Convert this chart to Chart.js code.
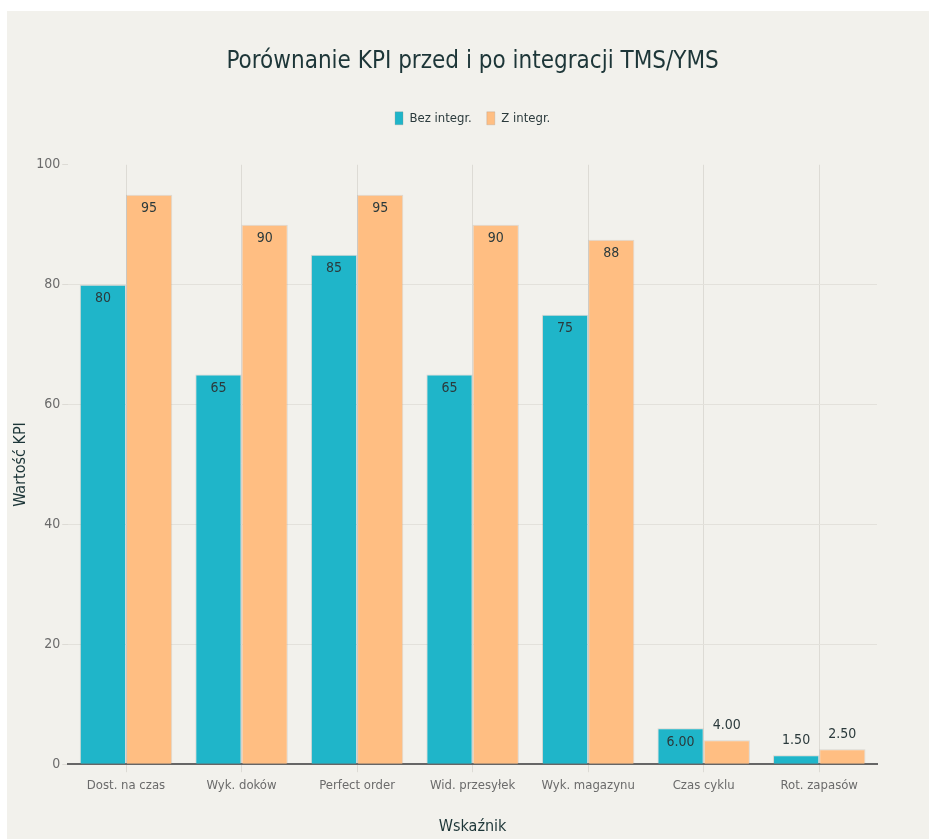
<!DOCTYPE html>
<html>
<head>
<meta charset="utf-8">
<script src="https://cdn.jsdelivr.net/npm/chart.js@4.4.0/dist/chart.umd.min.js"></script>
<style>
  html, body { margin: 0; padding: 0; background: #ffffff; }
  #wrap { position: absolute; left: 7px; top: 11px; width: 922px; height: 828px; background: #f2f1ec; }
</style>
</head>
<body>
<div id="wrap"><canvas id="myChart"></canvas></div>
<script>
var kategorie = ["Dost. na czas", "Wyk. doków", "Perfect order", "Wid. przesyłek", "Wyk. magazynu", "Czas cyklu", "Rot. zapasów"];
var bezIntegr = [80, 65, 85, 65, 75, 6, 1.5];
var zIntegr = [95, 90, 95, 90, 87.5, 4, 2.5];
var yTicks = [0, 20, 40, 60, 80, 100];

var fontName = "'Liberation Sans Narrow', 'DejaVu Sans Condensed', Arial, sans-serif";
var ctx = document.getElementById("myChart");

function fmt(v) {
  if (v < 10) return v.toFixed(2);
  return String(Math.round(v));
}

// etykiety na słupkach (bez pluginu datalabels)
var etykiety = {
  id: "etykiety",
  afterDatasetsDraw(chart) {
    var c = chart.ctx;
    c.save();
    c.font = "14px " + fontName;
    c.fillStyle = "#2b3a3c";
    c.textAlign = "center";
    chart.data.datasets.forEach((ds, i) => {
      var meta = chart.getDatasetMeta(i);
      meta.data.forEach((bar, j) => {
        var h = bar.base - bar.y;
        var txt = fmt(ds.data[j]);
        if (h > 28) {
          c.textBaseline = "top";
          c.fillText(txt, bar.x, bar.y + 7);
        } else {
          c.textBaseline = "bottom";
          c.fillText(txt, bar.x, bar.y - 8);
        }
      });
    });
    c.restore();
  }
};

// wiekszy odstep pod legenda
var odstepLegendy = {
  id: "odstepLegendy",
  beforeInit(chart) {
    var fit = chart.legend.fit;
    chart.legend.fit = function () {
      fit.bind(chart.legend)();
      this.height += 30;
    };
  }
};

var myChart = new Chart(ctx, {
  type: "bar",
  data: {
    labels: kategorie,
    datasets: [
      {
        label: "Bez integr.",
        data: bezIntegr,
        backgroundColor: "#1fb5c9",
        borderColor: "rgba(150,140,130,0.25)",
        borderWidth: 1,
      },
      {
        label: "Z integr.",
        data: zIntegr,
        backgroundColor: "#ffbe82",
        borderColor: "rgba(150,140,130,0.25)",
        borderWidth: 1,
      },
    ],
  },
  options: {
    responsive: true,
    maintainAspectRatio: false,
    animation: false,
    datasets: { bar: { categoryPercentage: 0.8, barPercentage: 1.0 } },
    layout: { padding: { left: 0, right: 52, top: 21, bottom: 0 } },
    plugins: {
      title: {
        display: true,
        fullSize: false,
        text: "Porównanie KPI przed i po integracji TMS/YMS",
        color: "#1d3638",
        font: { family: fontName, size: 24, weight: "normal" },
        padding: { top: 15, bottom: 21 },
      },
      legend: {
        position: "top",
        fullSize: false,
        labels: {
          color: "#2b3a3c",
          font: { family: fontName, size: 13 },
          boxWidth: 8,
          boxHeight: 13,
          padding: 15,
        },
      },
      tooltip: { enabled: false },
    },
    scales: {
      x: {
        grid: { offset: false, color: "#dddbd5", drawTicks: true, tickLength: 8 },
        border: { color: "#666666", width: 2 },
        ticks: { color: "#6b6b6b", font: { family: fontName, size: 13 }, padding: 6 },
        title: {
          display: true,
          text: "Wskaźnik",
          color: "#1d3638",
          font: { family: fontName, size: 16 },
          padding: { top: 17, bottom: 3 },
        },
      },
      y: {
        min: 0,
        max: 100,
        afterBuildTicks: (axis) => { axis.ticks = yTicks.map((v) => ({ value: v })); },
        grid: {
          color: (c) => (c.tick && c.tick.value === 100 ? "rgba(0,0,0,0)" : "#e3e1db"),
          tickColor: "#dddbd5",
          tickLength: 6,
        },
        border: { display: false },
        ticks: { color: "#6b6b6b", font: { family: fontName, size: 14 }, padding: 2 },
        title: {
          display: true,
          text: "Wartość KPI",
          color: "#1d3638",
          font: { family: fontName, size: 16 },
          padding: { top: 4, bottom: 4 },
        },
      },
    },
  },
  plugins: [etykiety, odstepLegendy],
});
</script>
</body>
</html>
